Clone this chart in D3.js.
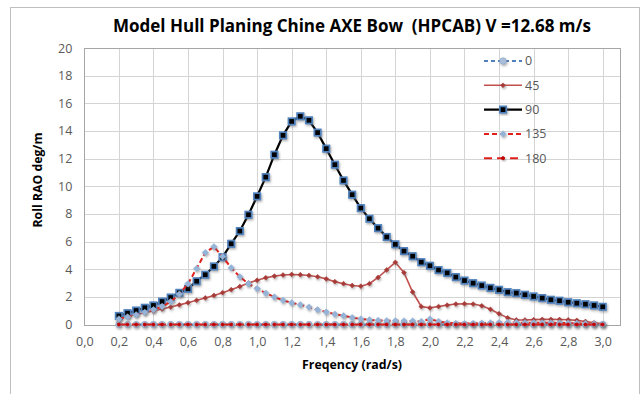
<!DOCTYPE html>
<html>
<head>
<meta charset="utf-8">
<script src="https://cdn.jsdelivr.net/npm/d3@7"></script>
<style>
  html, body { margin: 0; padding: 0; background: #fff; }
  svg { display: block; }
  text { font-family: "Open Sans", "Noto Sans", sans-serif; }
</style>
</head>
<body>
<svg id="chart" width="642" height="394"></svg>
<script>
// Frequency samples (rad/s), 0.20 .. 3.00 in steps of 0.05
const freq = [0.20,0.25,0.30,0.35,0.40,0.45,0.50,0.55,0.60,0.65,0.70,0.75,0.80,0.85,0.90,0.95,
  1.00,1.05,1.10,1.15,1.20,1.25,1.30,1.35,1.40,1.45,1.50,1.55,1.60,1.65,1.70,1.75,1.80,1.85,1.90,1.95,
  2.00,2.05,2.10,2.15,2.20,2.25,2.30,2.35,2.40,2.45,2.50,2.55,2.60,2.65,2.70,2.75,2.80,2.85,2.90,2.95,3.00];

// Roll RAO (deg/m) per heading
const roll0 = freq.map(() => 0);
const roll45 = [0.48,0.60,0.72,0.85,0.98,1.12,1.26,1.42,1.58,1.75,1.92,2.10,2.30,2.52,2.75,3.00,
  3.20,3.38,3.50,3.58,3.62,3.60,3.55,3.45,3.30,3.10,2.95,2.82,2.77,2.95,3.40,3.95,4.50,3.75,2.35,1.30,
  1.20,1.30,1.40,1.48,1.50,1.48,1.35,1.10,0.78,0.48,0.33,0.33,0.35,0.37,0.37,0.36,0.34,0.30,0.22,0.12,0.05];
const roll90 = [0.62,0.82,1.01,1.21,1.38,1.66,1.95,2.29,2.58,3.13,3.60,4.20,4.87,5.84,6.76,7.94,
  9.27,10.66,12.28,13.68,14.69,15.06,14.77,13.88,12.72,11.56,10.42,9.39,8.42,7.65,6.97,6.33,5.80,5.31,4.94,4.51,
  4.25,3.94,3.73,3.43,3.18,2.99,2.82,2.65,2.51,2.34,2.27,2.15,2.03,1.91,1.79,1.72,1.61,1.54,1.47,1.38,1.28];
const roll135 = [0.40,0.55,0.70,0.88,1.07,1.30,1.65,2.20,2.95,4.05,5.20,5.62,4.92,4.10,3.45,2.95,
  2.60,2.27,1.99,1.75,1.57,1.43,1.26,1.07,0.90,0.75,0.63,0.50,0.40,0.34,0.30,0.28,0.27,0.26,0.25,0.22,
  0.40,0.22,0.12,0.08,0.06,0.08,0.10,0.12,0.14,0.14,0.14,0.13,0.13,0.12,0.12,0.11,0.10,0.09,0.07,0.04,0.02];
const roll180 = freq.map(() => 0);

const headings = ["0", "45", "90", "135", "180"];
const xTicks = d3.range(0, 3.0001, 0.2);
const yTicks = d3.range(0, 20.0001, 2);

const titleText = "Model Hull Planing Chine AXE Bow  (HPCAB) V =12.68 m/s";
const xTitle = "Freqency (rad/s)";
const yTitle = "Roll RAO deg/m";

const svg = d3.select("#chart");

// drop shadow used under the markers
const defs = svg.append("defs");
const f = defs.append("filter").attr("id", "shadow")
  .attr("x", "-50%").attr("y", "-50%").attr("width", "200%").attr("height", "200%");
f.append("feDropShadow").attr("dx", 1).attr("dy", 1.5).attr("stdDeviation", 1)
  .attr("flood-color", "#666").attr("flood-opacity", 0.55);

// outer chart frame
svg.append("rect").attr("x", 10.5).attr("y", 7.5).attr("width", 629).attr("height", 400)
  .attr("fill", "#fff").attr("stroke", "#bfbfbf").attr("stroke-width", 1);

const plot = { left: 84.3, right: 620, top: 48, bottom: 324.5 };
const x = d3.scaleLinear().domain([0, 3.1]).range([plot.left, plot.right]);
const y = d3.scaleLinear().domain([0, 20]).range([plot.bottom, plot.top]);

// gridlines
const grid = svg.append("g");
grid.selectAll("line.h").data(yTicks).join("line").attr("class", "h")
  .attr("x1", plot.left).attr("x2", plot.right)
  .attr("y1", d => Math.round(y(d)) + 0.5).attr("y2", d => Math.round(y(d)) + 0.5)
  .attr("stroke", "#d4d4d4").attr("stroke-width", 1);
grid.selectAll("line.v").data(xTicks).join("line").attr("class", "v")
  .attr("x1", d => Math.round(x(d)) + 0.5).attr("x2", d => Math.round(x(d)) + 0.5)
  .attr("y1", plot.top).attr("y2", plot.bottom)
  .attr("stroke", "#d4d4d4").attr("stroke-width", 1);
// plot area border
svg.append("rect").attr("x", Math.round(plot.left) + 0.5).attr("y", Math.round(plot.top) + 0.5)
  .attr("width", Math.round(plot.right) - Math.round(plot.left))
  .attr("height", Math.round(plot.bottom) - Math.round(plot.top))
  .attr("fill", "none").attr("stroke", "#a6a6a6").attr("stroke-width", 1);

// axes (labels only, the lines come from the grid)
const fmt = d => d.toFixed(1).replace(".", ",");
const xAxis = svg.append("g").attr("transform", `translate(0,${plot.bottom})`)
  .call(d3.axisBottom(x).tickValues(xTicks).tickFormat(fmt).tickSize(0).tickPadding(13));
const yAxis = svg.append("g").attr("transform", `translate(${plot.left},0)`)
  .call(d3.axisLeft(y).tickValues(yTicks).tickFormat(d3.format("d")).tickSize(0).tickPadding(12));
[xAxis, yAxis].forEach(a => {
  a.select(".domain").remove();
  a.selectAll("text").attr("fill", "#595959").style("font-size", "12.5px")
    .style("font-family", "'Open Sans', 'Noto Sans', sans-serif");
});

// series styling
const series = [
  { name: headings[0], values: roll0, stroke: "#4f81bd", width: 2, dash: "4,3", marker: "circle", fill: "#a9bfdc", mstroke: "#98aeca", size: 3.2 },
  { name: headings[1], values: roll45, stroke: "#c0504d", width: 1.6, dash: null, marker: "diamond", fill: "#a83a38", mstroke: "#a83a38", size: 2.4 },
  { name: headings[2], values: roll90, stroke: "#000000", width: 2.2, dash: null, marker: "square", fill: "#000000", mstroke: "#4f81bd", size: 6.4 },
  { name: headings[3], values: roll135, stroke: "#e0201b", width: 2, dash: "5,3", marker: "diamond", fill: "#95b3d7", mstroke: "#95b3d7", size: 3.2 },
  { name: headings[4], values: roll180, stroke: "#e0201b", width: 2, dash: "8,5", marker: "circle", fill: "#c00000", mstroke: "#c00000", size: 1.6 }
];

const line = d3.line().x((d, i) => x(freq[i])).y(d => y(d));

function drawMarker(g, s, cx, cy) {
  if (s.marker === "circle") {
    g.append("circle").attr("cx", cx).attr("cy", cy).attr("r", s.size)
      .attr("fill", s.fill).attr("stroke", s.mstroke).attr("stroke-width", 0.8);
  } else if (s.marker === "square") {
    g.append("rect").attr("x", cx - s.size / 2).attr("y", cy - s.size / 2)
      .attr("width", s.size).attr("height", s.size)
      .attr("fill", s.fill).attr("stroke", s.mstroke).attr("stroke-width", 1.7);
  } else {
    const r = s.size;
    g.append("path").attr("d", `M${cx},${cy - r}L${cx + r},${cy}L${cx},${cy + r}L${cx - r},${cy}Z`)
      .attr("fill", s.fill).attr("stroke", s.mstroke).attr("stroke-width", 0.6);
  }
}

series.forEach(s => {
  const g = svg.append("g");
  g.append("path").datum(s.values).attr("d", line)
    .attr("fill", "none").attr("stroke", s.stroke).attr("stroke-width", s.width)
    .attr("stroke-dasharray", s.dash);
  const mg = g.append("g").attr("filter", "url(#shadow)");
  s.values.forEach((v, i) => drawMarker(mg, s, x(freq[i]), y(v)));
});

// legend
const legend = svg.append("g");
series.forEach((s, i) => {
  const ly = 61 + i * 24.3;
  legend.append("line").attr("x1", 484).attr("x2", 522).attr("y1", ly).attr("y2", ly)
    .attr("stroke", s.stroke).attr("stroke-width", s.width).attr("stroke-dasharray", s.dash);
  const mg = legend.append("g").attr("filter", "url(#shadow)");
  drawMarker(mg, s, 503, ly);
  legend.append("text").attr("x", 525).attr("y", ly).attr("dy", "0.35em")
    .attr("fill", "#595959").style("font-size", "12.5px").text(s.name);
});

// titles
svg.append("text").attr("x", 352).attr("y", 32).attr("text-anchor", "middle")
  .attr("fill", "#000").style("font-size", "18px").style("font-weight", "bold")
  .style("white-space", "pre")
  .attr("textLength", 478).attr("lengthAdjust", "spacingAndGlyphs").text(titleText);
svg.append("text").attr("x", 352).attr("y", 369).attr("text-anchor", "middle")
  .attr("fill", "#000").style("font-size", "12px").style("font-weight", "bold")
  .attr("textLength", 100).attr("lengthAdjust", "spacingAndGlyphs").text(xTitle);
svg.append("text").attr("transform", "translate(42,180) rotate(-90)").attr("text-anchor", "middle")
  .attr("fill", "#000").style("font-size", "12px").style("font-weight", "bold")
  .attr("textLength", 95).attr("lengthAdjust", "spacingAndGlyphs").text(yTitle);
</script>
</body>
</html>
